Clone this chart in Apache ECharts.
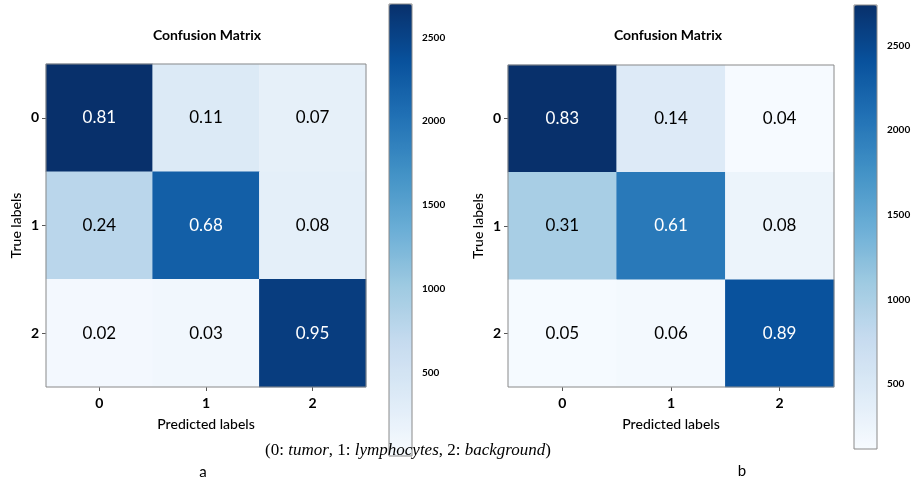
<!DOCTYPE html>
<html>
<head>
<meta charset="utf-8">
<script src="https://cdn.jsdelivr.net/npm/echarts@6/dist/echarts.min.js"></script>
<style>
  html, body { margin: 0; padding: 0; background: #fff; }
  #chart { width: 914px; height: 484px; }
</style>
</head>
<body>
<div id="chart"></div>
<script>
// Class labels shared by both matrices
const categories = ['0', '1', '2'];

// Row-normalised confusion matrices (rows: true label, columns: predicted label)
const ratiosA = [
  [0.81, 0.11, 0.07],
  [0.24, 0.68, 0.08],
  [0.02, 0.03, 0.95]
];
const ratiosB = [
  [0.83, 0.14, 0.04],
  [0.31, 0.61, 0.08],
  [0.05, 0.06, 0.89]
];

// Number of samples per true class (cell colour follows the raw count)
const supportA = [3330, 3250, 2700];
const supportB = [3300, 3280, 2700];

// Colour-bar ranges and tick values
const rangeA = [0, 2700];
const rangeB = [115, 2740];
const colorbarTicks = [500, 1000, 1500, 2000, 2500];

// Matplotlib "Blues" colour ramp
const blues = ['#f7fbff', '#deebf7', '#c6dbef', '#9ecae1', '#6baed6',
               '#4292c6', '#2171b5', '#08519c', '#08306b'];

const FONT = 'Lato, "Open Sans", sans-serif';

function buildCells(ratios, support) {
  const counts = ratios.map((row, r) => row.map(v => Math.round(v * support[r])));
  const maxCount = Math.max(...counts.flat());
  const out = [];
  ratios.forEach((row, r) => {
    row.forEach((v, c) => {
      const n = counts[r][c];
      out.push({
        value: [c, r, n, v],
        label: { color: n > maxCount / 2 ? '#ffffff' : '#000000' }
      });
    });
  });
  return out;
}

function matrixAxes(gridIndex) {
  const x = {
    type: 'category', gridIndex, data: categories,
    name: 'Predicted labels', nameLocation: 'middle', nameGap: 30,
    nameTextStyle: { fontFamily: FONT, fontSize: 14, color: '#000', fontWeight: 500 },
    axisLine: { show: false },
    axisTick: { show: true, alignWithLabel: true, length: 4, lineStyle: { color: '#555' } },
    axisLabel: { fontFamily: FONT, fontSize: 14, fontWeight: 'bold', color: '#000', margin: 9 },
    splitLine: { show: false }, splitArea: { show: false }
  };
  const y = {
    type: 'category', gridIndex, data: categories, inverse: true,
    name: 'True labels', nameLocation: 'middle', nameGap: 23, nameRotate: 90,
    nameTextStyle: { fontFamily: FONT, fontSize: 14, color: '#000', fontWeight: 500 },
    axisLine: { show: false },
    axisTick: { show: true, alignWithLabel: true, length: 4, lineStyle: { color: '#555' } },
    axisLabel: { fontFamily: FONT, fontSize: 14, fontWeight: 'bold', color: '#000', margin: 7 },
    splitLine: { show: false }, splitArea: { show: false }
  };
  return [x, y];
}

function colorbarAxes(gridIndex, range) {
  const x = { type: 'value', gridIndex, show: false, min: 0, max: 1 };
  const y = {
    type: 'value', gridIndex, position: 'right', min: range[0], max: range[1],
    axisLine: { show: false },
    axisTick: { show: true, length: 3, customValues: colorbarTicks, lineStyle: { color: '#555' } },
    axisLabel: { customValues: colorbarTicks, formatter: v => String(v),
                 fontFamily: FONT, fontSize: 10, fontWeight: 'bold', color: '#000', margin: 10 },
    splitLine: { show: false }
  };
  return [x, y];
}

function heatmap(gridIndex, data) {
  return {
    type: 'heatmap', xAxisIndex: gridIndex, yAxisIndex: gridIndex, data,
    itemStyle: { borderWidth: 0 },
    label: {
      show: true, fontFamily: FONT, fontSize: 17,
      formatter: p => p.data.value[3].toFixed(2)
    },
    emphasis: { disabled: true }
  };
}

function colorbar(seriesIndex, range, left, top, height) {
  return {
    type: 'continuous', seriesIndex, dimension: 2, min: range[0], max: range[1],
    inRange: { color: blues }, orient: 'vertical', left, top, padding: 0,
    itemWidth: 23, itemHeight: height, calculable: false, realtime: false,
    hoverLink: false, text: null, showLabel: false
  };
}

const [xa, ya] = matrixAxes(0);
const [xb, yb] = matrixAxes(1);
const [xca, yca] = colorbarAxes(2, rangeA);
const [xcb, ycb] = colorbarAxes(3, rangeB);

const frame = { show: true, borderColor: '#8a8a8a', borderWidth: 1, backgroundColor: 'transparent', z: 10 };

const titleText = (x, y, text) => ({
  type: 'text', x, y, z: 20,
  style: { text, fontFamily: FONT, fontSize: 14, fontWeight: 'bold', fill: '#000',
           textAlign: 'center', textVerticalAlign: 'middle' }
});
const plainText = (x, y, text) => ({
  type: 'text', x, y, z: 20,
  style: { text, fontFamily: FONT, fontSize: 15, fill: '#000',
           textAlign: 'center', textVerticalAlign: 'middle' }
});

const SERIF = '"Liberation Serif", serif';

const chart = echarts.init(document.getElementById('chart'));
chart.setOption({
  animation: false,
  backgroundColor: '#ffffff',
  grid: [
    Object.assign({ left: 46, top: 64, width: 320, height: 323 }, frame),
    Object.assign({ left: 508, top: 65, width: 326, height: 322 }, frame),
    Object.assign({ left: 389, top: 4, width: 23, height: 452 }, frame),
    Object.assign({ left: 854, top: 5, width: 23, height: 444 }, frame)
  ],
  xAxis: [xa, xb, xca, xcb],
  yAxis: [ya, yb, yca, ycb],
  visualMap: [
    colorbar(0, rangeA, 389, 4, 452),
    colorbar(1, rangeB, 854, 5, 444)
  ],
  series: [
    heatmap(0, buildCells(ratiosA, supportA)),
    heatmap(1, buildCells(ratiosB, supportB))
  ],
  graphic: [
    titleText(207, 35, 'Confusion Matrix'),
    titleText(668, 35, 'Confusion Matrix'),
    {
      type: 'text', x: 408, y: 451, z: 20,
      style: {
        text: '{n|(0:}{i| tumor}{n|, 1:}{i| lymphocytes}{n|, 2:}{i| background}{n|)}',
        textAlign: 'center', textVerticalAlign: 'middle',
        rich: {
          n: { fontFamily: SERIF, fontSize: 17, fill: '#000' },
          i: { fontFamily: SERIF, fontSize: 17, fontStyle: 'italic', fill: '#000' }
        }
      }
    },
    plainText(203, 472, 'a'),
    plainText(742, 471, 'b')
  ]
});
</script>
</body>
</html>
